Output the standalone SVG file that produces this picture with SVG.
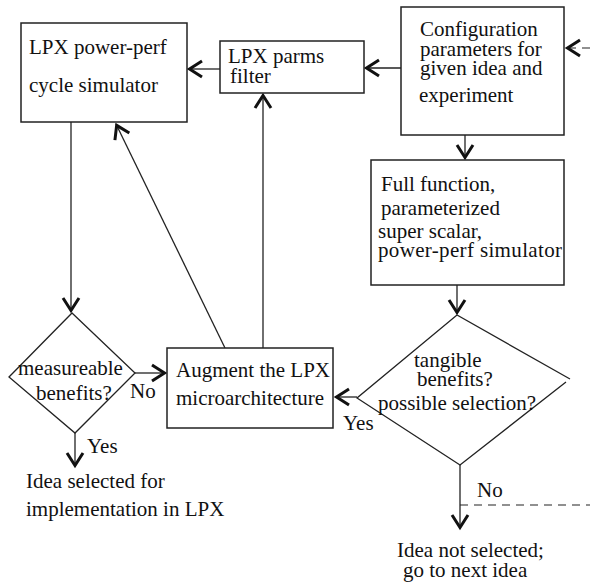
<svg xmlns="http://www.w3.org/2000/svg" width="590" height="586" viewBox="0 0 590 586" font-family="'Liberation Serif', 'DejaVu Serif', serif" font-size="21">
<style>
.box{fill:#fff;stroke:#222;stroke-width:1.5}
.ln{fill:none;stroke:#222;stroke-width:1.3}
.dash{fill:none;stroke:#222;stroke-width:1.2;stroke-dasharray:8,6}
text{font-family:'Liberation Serif','DejaVu Serif',serif;font-size:21px;fill:#111}
</style>
<defs>
<marker id="ah" markerUnits="userSpaceOnUse" viewBox="-18 -10 20 20" refX="0" refY="0" markerWidth="20" markerHeight="20" orient="auto">
<path d="M-14,-8 L-1.5,0 L-14,8" fill="none" stroke="#111" stroke-width="3" stroke-linejoin="miter"/>
</marker>
</defs>
<rect width="590" height="586" fill="#fff"/>
<g id="connectors">
<line class="ln" x1="220" y1="69" x2="188" y2="69" marker-end="url(#ah)"/>
<line class="ln" x1="401" y1="68" x2="365" y2="68" marker-end="url(#ah)"/>
<line class="dash" x1="590" y1="48" x2="566" y2="48" marker-end="url(#ah)"/>
<line class="ln" x1="465" y1="135" x2="465" y2="159" marker-end="url(#ah)"/>
<line class="ln" x1="457" y1="285" x2="457" y2="314" marker-end="url(#ah)"/>
<line class="ln" x1="357" y1="397" x2="335" y2="397" marker-end="url(#ah)"/>
<line class="ln" x1="71" y1="115" x2="71" y2="312" marker-end="url(#ah)"/>
<line class="ln" x1="135" y1="373" x2="166" y2="373" marker-end="url(#ah)"/>
<line class="ln" x1="75" y1="433" x2="75" y2="467" marker-end="url(#ah)"/>
<line class="ln" x1="225" y1="348" x2="116" y2="124" marker-end="url(#ah)"/>
<line class="ln" x1="263" y1="348" x2="263" y2="94" marker-end="url(#ah)"/>
<line class="ln" x1="460" y1="465" x2="460" y2="529" marker-end="url(#ah)"/>
<line class="dash" x1="460" y1="505" x2="590" y2="505"/>
</g>
<g id="lpx-sim">
<rect class="box" x="21" y="23" width="166" height="99"/>
<text x="29" y="54">LPX power-perf</text>
<text x="29" y="92">cycle simulator</text>
</g>
<g id="lpx-filter">
<rect class="box" x="220" y="41" width="144" height="52"/>
<text x="228" y="63">LPX parms</text>
<text x="230" y="83">filter</text>
</g>
<g id="config">
<rect class="box" x="401" y="7" width="163" height="128"/>
<text x="420" y="36">Configuration</text>
<text x="420" y="56">parameters for</text>
<text x="420" y="75">given idea and</text>
<text x="419" y="102">experiment</text>
</g>
<g id="full-sim">
<rect class="box" x="371" y="160" width="193" height="125"/>
<text x="381" y="191">Full function,</text>
<text x="381" y="215">parameterized</text>
<text x="378" y="238">super scalar,</text>
<text x="378" y="257" textLength="184">power-perf simulator</text>
</g>
<g id="tangible">
<path class="ln" d="M566,382 L460,465 L357,398 L457,315 L570,379"/>
<text x="414" y="367">tangible</text>
<text x="417" y="386">benefits?</text>
<text x="378" y="410">possible selection?</text>
</g>
<g id="augment">
<rect class="box" x="167" y="348" width="166" height="80"/>
<text x="176" y="377">Augment the LPX</text>
<text x="176" y="405">microarchitecture</text>
</g>
<g id="measureable">
<path class="ln" d="M72,313 L135,373 L75,433 L9,377 Z"/>
<text x="18" y="375">measureable</text>
<text x="36" y="400">benefits?</text>
</g>
<g id="labels">
<text x="130" y="398">No</text>
<text x="87" y="453">Yes</text>
<text x="343" y="430">Yes</text>
<text x="477" y="497">No</text>
</g>
<g id="selected">
<text x="26" y="488">Idea selected for</text>
<text x="26" y="516">implementation in LPX</text>
</g>
<g id="not-selected">
<text x="397" y="557">Idea not selected;</text>
<text x="403" y="577">go to next idea</text>
</g>
</svg>
